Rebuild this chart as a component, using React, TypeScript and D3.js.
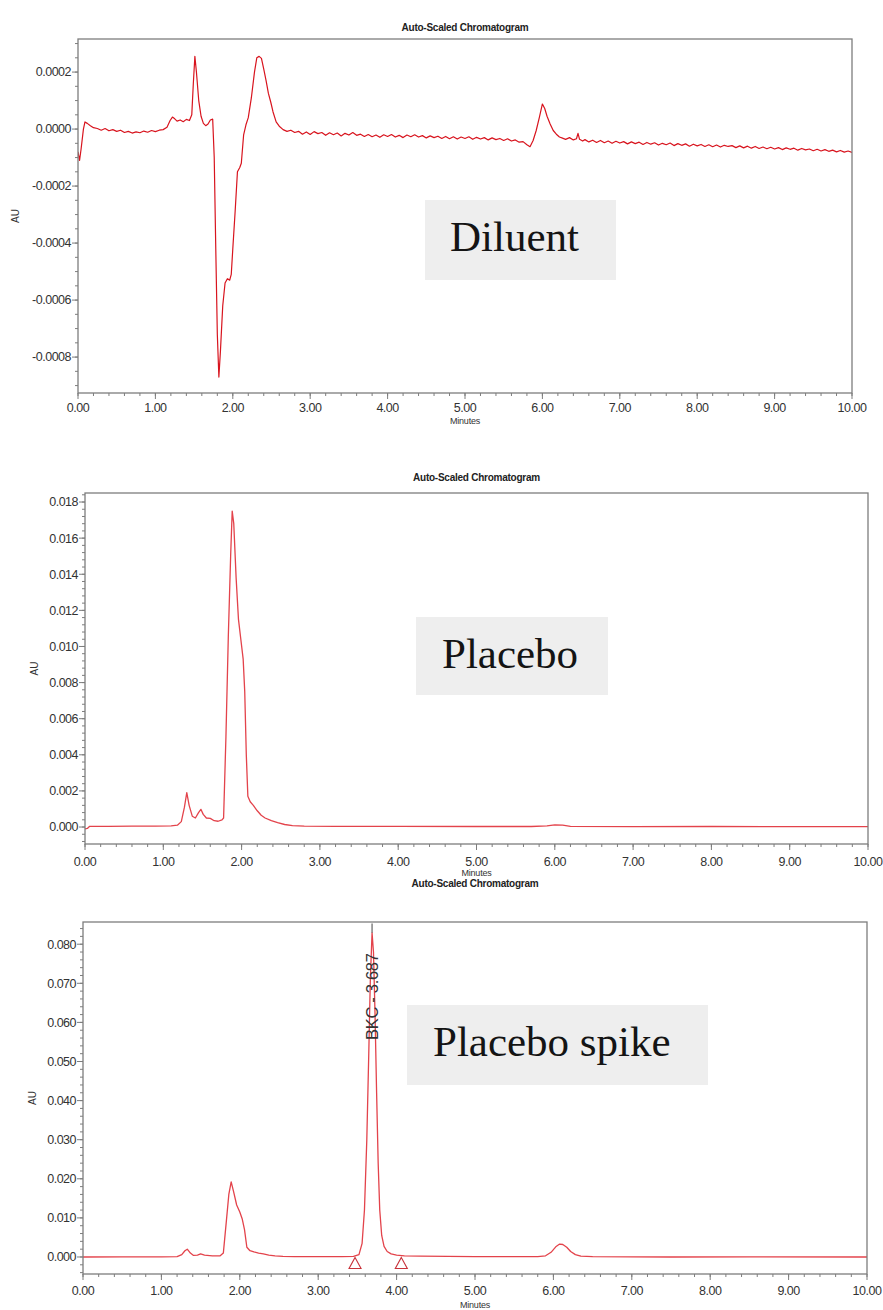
import React from "react";
import * as d3 from "d3";

// x axis (minutes) shared by the three runs
const minuteTicks = [0, 1, 2, 3, 4, 5, 6, 7, 8, 9, 10];

// y tick labels (AU)
const diluentTicks = [-0.0008, -0.0006, -0.0004, -0.0002, 0, 0.0002];
const placeboTicks = [0, 0.002, 0.004, 0.006, 0.008, 0.01, 0.012, 0.014, 0.016, 0.018];
const spikeTicks = [0, 0.01, 0.02, 0.03, 0.04, 0.05, 0.06, 0.07, 0.08];

// traces: [minutes, AU]
const diluent: [number, number][] = [
  [0.0, -80e-6], [0.02, -110e-6], [0.04, -70e-6], [0.07, 0], [0.09, 25e-6], [0.12, 20e-6],
  [0.16, 12e-6], [0.2, 5e-6], [0.25, 2e-6], [0.3, -4e-6], [0.35, 2e-6], [0.4, -6e-6],
  [0.45, -2e-6], [0.5, -8e-6], [0.55, -4e-6], [0.6, -12e-6], [0.65, -8e-6], [0.7, -14e-6],
  [0.75, -10e-6], [0.8, -13e-6], [0.85, -7e-6], [0.9, -11e-6], [0.95, -5e-6], [1.0, -9e-6],
  [1.05, -4e-6], [1.1, -2e-6], [1.15, 6e-6], [1.19, 30e-6], [1.22, 42e-6], [1.25, 36e-6],
  [1.28, 28e-6], [1.32, 32e-6], [1.36, 26e-6], [1.4, 34e-6], [1.44, 30e-6], [1.47, 50e-6],
  [1.49, 160e-6], [1.51, 255e-6], [1.53, 200e-6], [1.56, 100e-6], [1.59, 45e-6], [1.62, 20e-6],
  [1.65, 12e-6], [1.68, 18e-6], [1.71, 32e-6], [1.74, 35e-6], [1.76, -100e-6], [1.78, -420e-6],
  [1.8, -720e-6], [1.82, -870e-6], [1.84, -780e-6], [1.87, -620e-6], [1.9, -540e-6], [1.93, -525e-6],
  [1.96, -530e-6], [1.98, -510e-6], [2.0, -420e-6], [2.03, -290e-6], [2.06, -150e-6], [2.09, -135e-6],
  [2.11, -120e-6], [2.14, -20e-6], [2.17, 15e-6], [2.2, 40e-6], [2.24, 110e-6], [2.28, 200e-6],
  [2.31, 250e-6], [2.34, 255e-6], [2.37, 248e-6], [2.4, 210e-6], [2.43, 170e-6], [2.46, 125e-6],
  [2.49, 95e-6], [2.52, 60e-6], [2.56, 25e-6], [2.6, 10e-6], [2.65, -2e-6], [2.7, -8e-6],
  [2.75, -4e-6], [2.8, -12e-6], [2.85, -8e-6], [2.9, -18e-6], [2.95, -10e-6], [3.0, -19e-6],
  [3.05, -9e-6], [3.1, -16e-6], [3.15, -12e-6], [3.2, -22e-6], [3.25, -13e-6], [3.3, -20e-6],
  [3.35, -14e-6], [3.4, -24e-6], [3.45, -15e-6], [3.5, -21e-6], [3.55, -12e-6], [3.6, -22e-6],
  [3.65, -18e-6], [3.7, -26e-6], [3.75, -19e-6], [3.8, -27e-6], [3.85, -21e-6], [3.9, -29e-6],
  [3.95, -20e-6], [4.0, -26e-6], [4.05, -19e-6], [4.1, -28e-6], [4.15, -22e-6], [4.2, -30e-6],
  [4.25, -21e-6], [4.3, -27e-6], [4.35, -20e-6], [4.4, -28e-6], [4.45, -23e-6], [4.5, -31e-6],
  [4.55, -24e-6], [4.6, -30e-6], [4.65, -25e-6], [4.7, -33e-6], [4.75, -26e-6], [4.8, -34e-6],
  [4.85, -27e-6], [4.9, -35e-6], [4.95, -28e-6], [5.0, -33e-6], [5.05, -27e-6], [5.1, -36e-6],
  [5.15, -29e-6], [5.2, -35e-6], [5.25, -30e-6], [5.3, -38e-6], [5.35, -31e-6], [5.4, -37e-6],
  [5.45, -33e-6], [5.5, -40e-6], [5.55, -34e-6], [5.6, -42e-6], [5.65, -38e-6], [5.7, -46e-6],
  [5.75, -44e-6], [5.8, -55e-6], [5.84, -62e-6], [5.88, -40e-6], [5.92, -5e-6], [5.96, 40e-6],
  [6.0, 88e-6], [6.03, 72e-6], [6.06, 45e-6], [6.1, 18e-6], [6.14, -5e-6], [6.18, -18e-6],
  [6.22, -28e-6], [6.26, -32e-6], [6.3, -36e-6], [6.35, -30e-6], [6.4, -38e-6], [6.44, -34e-6],
  [6.46, -15e-6], [6.48, -36e-6], [6.52, -42e-6], [6.55, -37e-6], [6.6, -45e-6], [6.65, -39e-6],
  [6.7, -47e-6], [6.75, -40e-6], [6.8, -48e-6], [6.85, -42e-6], [6.9, -50e-6], [6.95, -43e-6],
  [7.0, -49e-6], [7.05, -44e-6], [7.1, -52e-6], [7.15, -45e-6], [7.2, -51e-6], [7.25, -46e-6],
  [7.3, -54e-6], [7.35, -47e-6], [7.4, -53e-6], [7.45, -48e-6], [7.5, -56e-6], [7.55, -50e-6],
  [7.6, -55e-6], [7.65, -49e-6], [7.7, -58e-6], [7.75, -51e-6], [7.8, -57e-6], [7.85, -52e-6],
  [7.9, -60e-6], [7.95, -53e-6], [8.0, -59e-6], [8.05, -54e-6], [8.1, -61e-6], [8.15, -55e-6],
  [8.2, -62e-6], [8.25, -56e-6], [8.3, -63e-6], [8.35, -57e-6], [8.4, -61e-6], [8.45, -58e-6],
  [8.5, -65e-6], [8.55, -59e-6], [8.6, -66e-6], [8.65, -60e-6], [8.7, -67e-6], [8.75, -61e-6],
  [8.8, -68e-6], [8.85, -63e-6], [8.9, -69e-6], [8.95, -64e-6], [9.0, -70e-6], [9.05, -65e-6],
  [9.1, -72e-6], [9.15, -66e-6], [9.2, -71e-6], [9.25, -67e-6], [9.3, -74e-6], [9.35, -68e-6],
  [9.4, -73e-6], [9.45, -70e-6], [9.5, -76e-6], [9.55, -71e-6], [9.6, -77e-6], [9.65, -72e-6],
  [9.7, -78e-6], [9.75, -74e-6], [9.8, -80e-6], [9.85, -75e-6], [9.9, -81e-6], [9.95, -77e-6],
  [10.0, -82e-6],
];

const placebo: [number, number][] = [
  [0.0, -0.0001], [0.03, -0.00008], [0.06, 0.00004], [0.3, 0.00004], [0.6, 0.00005], [0.9, 0.00005],
  [1.1, 0.00006], [1.18, 0.0001], [1.23, 0.0003], [1.27, 0.0011], [1.3, 0.0019], [1.33, 0.0012],
  [1.37, 0.0006], [1.41, 0.0005], [1.45, 0.0008], [1.48, 0.00098], [1.51, 0.0007], [1.55, 0.0005],
  [1.6, 0.00048], [1.65, 0.00035], [1.7, 0.00032], [1.75, 0.0004], [1.77, 0.0005], [1.8, 0.005],
  [1.83, 0.0105], [1.86, 0.015], [1.88, 0.0175], [1.9, 0.0168], [1.93, 0.0138], [1.96, 0.0115],
  [1.99, 0.0104], [2.02, 0.0093], [2.04, 0.0075], [2.06, 0.004], [2.08, 0.0017], [2.11, 0.0014],
  [2.15, 0.0012], [2.2, 0.0009], [2.25, 0.00065], [2.3, 0.0005], [2.38, 0.00035], [2.46, 0.00024],
  [2.55, 0.00014], [2.65, 0.00008], [2.8, 0.00005], [3.2, 0.00004], [4.0, 0.00004], [5.0, 0.00003],
  [5.7, 0.00003], [5.9, 0.00006], [6.0, 0.00012], [6.1, 0.0001], [6.2, 0.00004], [7.0, 0.00002],
  [8.0, 0.00003], [9.0, 0.00002], [10.0, 0.00002],
];

const placeboSpike: [number, number][] = [
  [0.0, 0], [0.5, 0.00005], [1.0, 0.00005], [1.2, 0.0001], [1.26, 0.0006], [1.3, 0.0016],
  [1.33, 0.002], [1.37, 0.001], [1.41, 0.0004], [1.46, 0.0005], [1.5, 0.0008], [1.55, 0.0005],
  [1.65, 0.0003], [1.75, 0.0003], [1.79, 0.001], [1.83, 0.0095], [1.86, 0.016], [1.89, 0.0192],
  [1.92, 0.0168], [1.96, 0.0133], [2.0, 0.0115], [2.03, 0.0098], [2.06, 0.007], [2.09, 0.0025],
  [2.13, 0.0016], [2.18, 0.0013], [2.24, 0.001], [2.3, 0.0008], [2.37, 0.0005], [2.45, 0.0003],
  [2.55, 0.00015], [2.7, 0.0001], [3.0, 0.0001], [3.3, 0.0001], [3.45, 0.00015], [3.52, 0.0006],
  [3.56, 0.0035], [3.59, 0.012], [3.62, 0.03], [3.645, 0.052], [3.665, 0.071], [3.687, 0.0829],
  [3.705, 0.078], [3.725, 0.062], [3.745, 0.042], [3.765, 0.024], [3.785, 0.012], [3.81, 0.0055],
  [3.84, 0.0027], [3.88, 0.0014], [3.93, 0.0008], [4.0, 0.0005], [4.1, 0.0003], [4.3, 0.0002],
  [5.0, 0.0001], [5.8, 0.0001], [5.9, 0.0003], [5.97, 0.0012], [6.03, 0.0026], [6.08, 0.0033],
  [6.12, 0.0032], [6.17, 0.0025], [6.22, 0.0014], [6.28, 0.0006], [6.35, 0.0002], [6.5, 0.0001],
  [7.5, 0], [8.5, 0.00005], [10.0, 0],
];

// integrated peak in the spiked run
const bkcPeak = { name: "BKC", rt: 3.687, apex: 0.0829 };
const bkcMarkers = [3.47, 4.06]; // start / end of integration

const fmtLocale = d3.formatLocale({
  decimal: ".",
  thousands: ",",
  grouping: [3],
  currency: ["", ""],
  minus: "-",
});

const SANS = "'Liberation Sans', Arial, sans-serif";
const SERIF = "'Liberation Serif', 'Times New Roman', serif";

function Chromatogram(props: any) {
  const { data, box, yDomain, yTicks, yMinor, yFmt, titleY, tickY, minutesY, auX, stroke, sw, label, overlay } = props;
  const x = d3.scaleLinear().domain([0, 10]).range([box.l, box.r]);
  const y = d3.scaleLinear().domain(yDomain).range([box.b, box.t]);
  const line = d3.line<[number, number]>().x((d) => x(d[0])).y((d) => y(d[1]));
  const fy = fmtLocale.format(yFmt);
  const fx = d3.format(".2f");
  const minorY = d3
    .range(Math.ceil(yDomain[0] / yMinor), Math.floor(yDomain[1] / yMinor) + 1)
    .map((i) => i * yMinor);
  const minorX = d3.range(0, 51).map((i) => i * 0.2);
  const cx = (box.l + box.r) / 2;
  const clipId = "clip" + Math.round(box.t);
  const axis = "#7d7d7d";

  return (
    <g>
      <defs>
        <clipPath id={clipId}>
          <rect x={box.l} y={box.t} width={box.r - box.l} height={box.b - box.t} />
        </clipPath>
      </defs>
      <text x={cx} y={titleY} textAnchor="middle" fontFamily={SANS} fontWeight="bold" fontSize={10} letterSpacing={-0.25} fill="#222">
        Auto-Scaled Chromatogram
      </text>

      {/* legend-like label box */}
      <rect x={label.x} y={label.y} width={label.w} height={label.h} fill="#eeeeee" />
      <text x={label.x + label.tx} y={label.y + 51} fontFamily={SERIF} fontSize={43} fill="#141414">
        {label.text}
      </text>

      <path d={line(data) || ""} fill="none" stroke={stroke} strokeWidth={sw} strokeLinejoin="round" clipPath={`url(#${clipId})`} />
      {overlay && overlay(x, y)}

      {/* frame */}
      <rect x={box.l} y={box.t} width={box.r - box.l} height={box.b - box.t} fill="none" stroke={axis} strokeWidth={1.3} />

      {minorY.map((v: number, i: number) => (
        <line key={"my" + i} x1={box.l - 3} x2={box.l} y1={y(v)} y2={y(v)} stroke={axis} strokeWidth={1} />
      ))}
      {yTicks.map((v: number) => (
        <g key={"y" + v}>
          <line x1={box.l - 6} x2={box.l} y1={y(v)} y2={y(v)} stroke={axis} strokeWidth={1} />
          <text x={box.l - 7} y={y(v)} dy="0.35em" textAnchor="end" fontFamily={SANS} fontSize={12.5} letterSpacing={-0.5} fill="#333">
            {fy(v)}
          </text>
        </g>
      ))}
      {minorX.map((v: number, i: number) => (
        <line key={"mx" + i} x1={x(v)} x2={x(v)} y1={box.b} y2={box.b + 3} stroke={axis} strokeWidth={1} />
      ))}
      {minuteTicks.map((v) => (
        <g key={"x" + v}>
          <line x1={x(v)} x2={x(v)} y1={box.b} y2={box.b + 6} stroke={axis} strokeWidth={1} />
          <text x={x(v)} y={tickY} textAnchor="middle" fontFamily={SANS} fontSize={12.5} letterSpacing={-0.5} fill="#333">
            {fx(v)}
          </text>
        </g>
      ))}
      <text x={cx} y={minutesY} textAnchor="middle" fontFamily={SANS} fontSize={9} letterSpacing={-0.2} fill="#333">
        Minutes
      </text>
      <text transform={`translate(${auX},${(box.t + box.b) / 2}) rotate(-90)`} textAnchor="middle" fontFamily={SANS} fontSize={10} fill="#333">
        AU
      </text>
    </g>
  );
}

export default function App() {
  const spikeOverlay = (x: any, y: any) => (
    <g>
      <line x1={x(bkcPeak.rt)} x2={x(bkcPeak.rt)} y1={y(bkcPeak.apex)} y2={y(0.0853)} stroke="#444" strokeWidth={1} />
      <text
        transform={`translate(${x(bkcPeak.rt) + 6},${y(0.0555)}) rotate(-90)`}
        fontFamily={SANS}
        fontSize={16.5}
        letterSpacing={-0.3}
        fill="#333"
      >
        {`${bkcPeak.name} - ${bkcPeak.rt.toFixed(3)}`}
      </text>
      {bkcMarkers.map((t) => (
        <path
          key={t}
          d={`M${x(t)},${y(0) + 0.5} l6,11 h-12 z`}
          fill="none"
          stroke="#c8323a"
          strokeWidth={1.1}
        />
      ))}
    </g>
  );

  return (
    <svg width={883} height={1310} style={{ position: "absolute", left: 0, top: 0, background: "#fff" }}>
      <Chromatogram
        data={diluent}
        box={{ l: 78, r: 852, t: 39, b: 393 }}
        yDomain={[-0.000926, 0.000316]}
        yTicks={diluentTicks}
        yMinor={0.00005}
        yFmt=".4f"
        titleY={31}
        tickY={412}
        minutesY={424}
        auX={19}
        stroke="#d8141e"
        sw={1.2}
        label={{ x: 425, y: 200, w: 191, h: 80, tx: 25, text: "Diluent" }}
      />
      <Chromatogram
        data={placebo}
        box={{ l: 85, r: 868, t: 493, b: 844 }}
        yDomain={[-0.00094, 0.0185]}
        yTicks={placeboTicks}
        yMinor={0.0004}
        yFmt=".3f"
        titleY={481}
        tickY={866}
        minutesY={876}
        auX={38}
        stroke="#e3434b"
        sw={1.3}
        label={{ x: 416, y: 617, w: 192, h: 78, tx: 26, text: "Placebo" }}
      />
      <Chromatogram
        data={placeboSpike}
        box={{ l: 83, r: 867, t: 922, b: 1274 }}
        yDomain={[-0.00435, 0.08568]}
        yTicks={spikeTicks}
        yMinor={0.002}
        yFmt=".3f"
        titleY={887}
        tickY={1295}
        minutesY={1308}
        auX={36}
        stroke="#e3434b"
        sw={1.3}
        label={{ x: 407, y: 1005, w: 301, h: 80, tx: 26, text: "Placebo spike" }}
        overlay={spikeOverlay}
      />
    </svg>
  );
}
